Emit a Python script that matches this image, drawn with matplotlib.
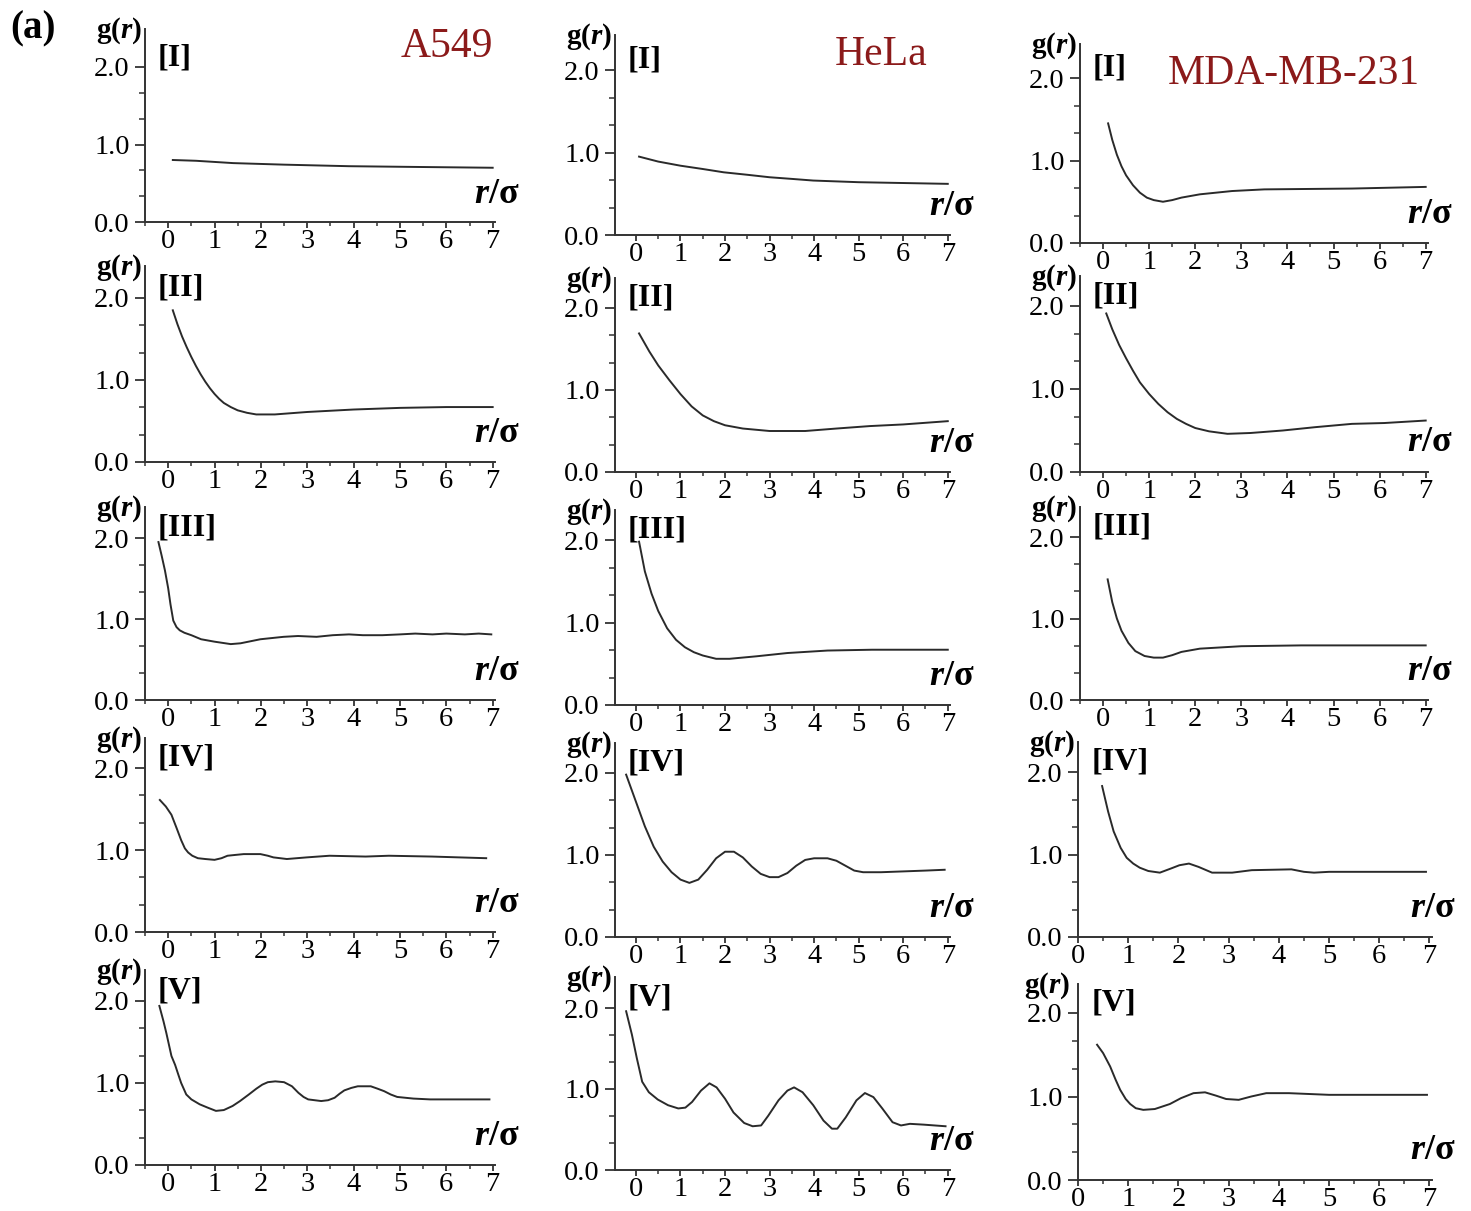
import matplotlib
matplotlib.use("Agg")
import matplotlib.pyplot as plt
from matplotlib.ticker import MultipleLocator, FixedLocator

plt.rcParams['font.family'] = ['Liberation Serif', 'DejaVu Serif']
plt.rcParams['mathtext.fontset'] = 'custom'
plt.rcParams['mathtext.rm'] = 'Liberation Serif:bold'
plt.rcParams['mathtext.it'] = 'Liberation Serif:italic:bold'
plt.rcParams['mathtext.bf'] = 'Liberation Serif:bold'

# ---------------- data ----------------
cell_lines = ["A549", "HeLa", "MDA-MB-231"]
states = ["[I]", "[II]", "[III]", "[IV]", "[V]"]
x_ticks = [0, 1, 2, 3, 4, 5, 6, 7]
y_ticks = [0.0, 1.0, 2.0]

# A549
a549_I_r = [0.1, 0.6, 1.4, 2.5, 3.9, 5.4, 7.0]
a549_I_g = [0.80, 0.79, 0.76, 0.74, 0.72, 0.71, 0.70]
a549_II_r = [0.1, 0.2, 0.3, 0.4, 0.5, 0.6, 0.7, 0.8, 0.9, 1.0, 1.1, 1.2, 1.35, 1.5, 1.7, 1.9,
             2.3, 3.0, 4.0, 5.0, 6.0, 7.0]
a549_II_g = [1.85, 1.68, 1.53, 1.40, 1.28, 1.17, 1.07, 0.98, 0.90, 0.83, 0.77, 0.72, 0.67, 0.63, 0.60, 0.58,
             0.58, 0.61, 0.64, 0.66, 0.67, 0.67]
a549_III_r = [-0.21, -0.14, -0.07, 0.0, 0.05, 0.11, 0.18, 0.25, 0.35, 0.5, 0.71, 1.0, 1.35, 1.56, 1.99,
              2.49, 2.8, 3.2, 3.55, 3.9, 4.2, 4.62, 5.0, 5.33, 5.7, 6.0, 6.4, 6.7, 6.97]
a549_III_g = [1.95, 1.78, 1.60, 1.38, 1.18, 0.98, 0.90, 0.86, 0.83, 0.80, 0.75, 0.72, 0.69, 0.70, 0.75,
              0.78, 0.79, 0.78, 0.80, 0.81, 0.80, 0.80, 0.81, 0.82, 0.81, 0.82, 0.81, 0.82, 0.81]
a549_IV_r = [-0.18, -0.05, 0.07, 0.18, 0.28, 0.36, 0.43, 0.52, 0.64, 0.8, 1.0, 1.15, 1.28, 1.45, 1.63,
             1.99, 2.15, 2.27, 2.56, 2.99, 3.48, 4.26, 4.76, 5.69, 6.86]
a549_IV_g = [1.61, 1.53, 1.43, 1.27, 1.12, 1.02, 0.97, 0.93, 0.90, 0.89, 0.88, 0.90, 0.93, 0.94, 0.95,
             0.95, 0.93, 0.91, 0.89, 0.91, 0.93, 0.92, 0.93, 0.92, 0.90]
a549_V_r = [-0.19, -0.1, -0.04, 0.07, 0.15, 0.22, 0.28, 0.39, 0.5, 0.68, 0.85, 1.03, 1.2, 1.39, 1.55,
            1.74, 1.9, 2.03, 2.15, 2.31, 2.5, 2.67, 2.81, 2.92, 3.02, 3.3, 3.45, 3.59, 3.7, 3.8, 3.95,
            4.09, 4.37, 4.52, 4.66, 4.8, 4.94, 5.29, 5.65, 6.93]
a549_V_g = [1.94, 1.75, 1.61, 1.33, 1.22, 1.10, 1.00, 0.86, 0.80, 0.74, 0.70, 0.66, 0.67, 0.72, 0.78,
            0.86, 0.93, 0.98, 1.01, 1.02, 1.01, 0.96, 0.88, 0.83, 0.80, 0.78, 0.79, 0.82, 0.87, 0.91, 0.94,
            0.96, 0.96, 0.93, 0.90, 0.86, 0.83, 0.81, 0.80, 0.80]

# HeLa
hela_I_r = [0.07, 0.5, 1.0, 1.5, 1.97, 2.5, 3.0, 3.5, 3.98, 5.0, 6.0, 7.0]
hela_I_g = [0.95, 0.89, 0.84, 0.80, 0.76, 0.73, 0.70, 0.68, 0.66, 0.64, 0.63, 0.62]
hela_II_r = [0.07, 0.3, 0.5, 0.75, 1.0, 1.25, 1.5, 1.75, 2.0, 2.4, 3.0, 3.8, 4.5, 5.25, 6.0, 7.0]
hela_II_g = [1.69, 1.47, 1.30, 1.12, 0.95, 0.80, 0.69, 0.62, 0.57, 0.53, 0.50, 0.50, 0.53, 0.56, 0.58, 0.62]
hela_III_r = [0.07, 0.2, 0.35, 0.5, 0.7, 0.9, 1.1, 1.3, 1.5, 1.8, 2.1, 2.7, 3.4, 4.3, 5.3, 7.0]
hela_III_g = [1.98, 1.62, 1.35, 1.14, 0.93, 0.79, 0.70, 0.64, 0.60, 0.56, 0.56, 0.59, 0.63, 0.66, 0.67, 0.67]
hela_IV_r = [-0.22, 0.0, 0.2, 0.4, 0.6, 0.8, 1.0, 1.2, 1.4, 1.6, 1.8, 2.0, 2.2, 2.4, 2.6, 2.8, 3.0,
             3.2, 3.4, 3.6, 3.8, 4.0, 4.3, 4.5, 4.7, 4.9, 5.1, 5.5, 6.0, 6.5, 6.93]
hela_IV_g = [1.98, 1.65, 1.35, 1.10, 0.92, 0.79, 0.70, 0.66, 0.70, 0.82, 0.96, 1.04, 1.04, 0.97, 0.86, 0.77, 0.73,
             0.73, 0.78, 0.87, 0.94, 0.96, 0.96, 0.93, 0.87, 0.81, 0.79, 0.79, 0.80, 0.81, 0.82]
hela_V_r = [-0.22, -0.09, 0.02, 0.14, 0.29, 0.49, 0.72, 0.95, 1.11, 1.26, 1.46, 1.65, 1.81, 2.0, 2.19,
            2.43, 2.62, 2.81, 2.97, 3.2, 3.4, 3.55, 3.74, 3.98, 4.21, 4.4, 4.52, 4.71, 4.95, 5.14,
            5.33, 5.53, 5.76, 5.95, 6.15, 6.46, 6.95]
hela_V_g = [1.96, 1.67, 1.38, 1.09, 0.96, 0.87, 0.80, 0.76, 0.77, 0.84, 0.98, 1.07, 1.02, 0.88, 0.71,
            0.58, 0.54, 0.55, 0.67, 0.86, 0.98, 1.02, 0.96, 0.80, 0.61, 0.51, 0.51, 0.65, 0.86, 0.95,
            0.90, 0.76, 0.59, 0.55, 0.57, 0.56, 0.54]

# MDA-MB-231
mda_I_r = [0.11, 0.2, 0.3, 0.4, 0.5, 0.65, 0.8, 0.95, 1.1, 1.3, 1.5, 1.7, 2.1, 2.8, 3.5, 5.4, 7.0]
mda_I_g = [1.45, 1.25, 1.07, 0.93, 0.82, 0.70, 0.61, 0.55, 0.52, 0.50, 0.52, 0.55, 0.59, 0.63, 0.65, 0.66, 0.68]
mda_II_r = [0.07, 0.2, 0.35, 0.5, 0.65, 0.8, 1.0, 1.2, 1.4, 1.6, 1.8, 2.0, 2.3, 2.7, 3.2, 3.9, 4.6,
            5.4, 6.1, 7.0]
mda_II_g = [1.91, 1.72, 1.53, 1.37, 1.22, 1.08, 0.94, 0.82, 0.72, 0.64, 0.58, 0.53, 0.49, 0.46, 0.47, 0.50, 0.54,
            0.58, 0.59, 0.62]
mda_III_r = [0.1, 0.2, 0.3, 0.4, 0.55, 0.7, 0.9, 1.1, 1.3, 1.5, 1.7, 2.1, 3.0, 4.3, 7.0]
mda_III_g = [1.48, 1.20, 1.00, 0.85, 0.70, 0.60, 0.54, 0.52, 0.52, 0.55, 0.59, 0.63, 0.66, 0.67, 0.67]
mda_IV_r = [0.48, 0.6, 0.71, 0.85, 0.97, 1.1, 1.23, 1.4, 1.63, 1.85, 2.02, 2.21, 2.4, 2.67, 3.07, 3.46,
            4.25, 4.5, 4.7, 5.0, 6.93]
mda_IV_g = [1.83, 1.52, 1.28, 1.08, 0.96, 0.89, 0.84, 0.80, 0.78, 0.83, 0.87, 0.89, 0.85, 0.78, 0.78, 0.81,
            0.82, 0.79, 0.78, 0.79, 0.79]
mda_V_r = [0.38, 0.5, 0.64, 0.75, 0.84, 0.95, 1.04, 1.15, 1.3, 1.53, 1.83, 2.05, 2.3, 2.53, 2.75, 2.95,
           3.2, 3.45, 3.75, 4.2, 5.0, 6.95]
mda_V_g = [1.62, 1.52, 1.36, 1.20, 1.08, 0.97, 0.91, 0.86, 0.84, 0.85, 0.91, 0.98, 1.04, 1.05, 1.01, 0.97,
           0.96, 1.00, 1.04, 1.04, 1.02, 1.02]

series = [
    [(a549_I_r, a549_I_g), (hela_I_r, hela_I_g), (mda_I_r, mda_I_g)],
    [(a549_II_r, a549_II_g), (hela_II_r, hela_II_g), (mda_II_r, mda_II_g)],
    [(a549_III_r, a549_III_g), (hela_III_r, hela_III_g), (mda_III_r, mda_III_g)],
    [(a549_IV_r, a549_IV_g), (hela_IV_r, hela_IV_g), (mda_IV_r, mda_IV_g)],
    [(a549_V_r, a549_V_g), (hela_V_r, hela_V_g), (mda_V_r, mda_V_g)],
]

# ---------------- layout (pixels) ----------------
W, H = 1471, 1211
col_x = [(145, 495, -0.5), (615, 950, -0.47), (1080, 1428, -0.5)]
col3_low = (1078, 1432, 0.0)
# (pixel y of 0.0, pixel y of 2.0, pixel y of the g(r) label centre) per row, per column
rows_y = [
    [(222, 67, 27), (235, 70, 33), (243, 78, 42)],
    [(462, 298, 264), (472, 308, 276), (472, 306, 274)],
    [(700, 538, 505), (705, 540, 508), (700, 537, 505)],
    [(932, 768, 736), (937, 773, 741), (937, 772, 740)],
    [(1165, 1001, 968), (1170, 1008, 975), (1180, 1013, 982)],
]
XMAX = 7.05
name_pos = [(7.0, 2.26), (6.55, 2.18), (6.88, 2.05)]

fig = plt.figure(figsize=(W / 100, H / 100), dpi=100)
line_c = '#2a2a2a'
spine_c = '#333333'

for ri in range(5):
    for ci in range(3):
        if ci == 2 and ri >= 3:
            lpx, rpx, xmin = col3_low
        else:
            lpx, rpx, xmin = col_x[ci]
        y0, y2, gc = rows_y[ri][ci]
        top_px = gc + 2
        ytop = 2.0 * (y0 - top_px) / (y0 - y2)
        ax = fig.add_axes([lpx / W, 1 - y0 / H, (rpx - lpx) / W, (y0 - top_px) / H])
        r, g = series[ri][ci]
        ax.plot(r, g, color=line_c, lw=1.4, solid_joinstyle='round')
        ax.set_xlim(xmin, XMAX)
        ax.set_ylim(0, ytop)
        for s in ['top', 'right']:
            ax.spines[s].set_visible(False)
        for s in ['left', 'bottom']:
            ax.spines[s].set_color(spine_c)
            ax.spines[s].set_linewidth(1.4)
        ax.set_xticks(x_ticks)
        ax.set_xticklabels([str(v) for v in x_ticks])
        ax.xaxis.set_minor_locator(MultipleLocator(0.5))
        ax.set_yticks(y_ticks)
        ax.set_yticklabels([f"{v:.1f}" for v in y_ticks])
        ax.yaxis.set_minor_locator(FixedLocator([1 / 3, 2 / 3, 4 / 3, 5 / 3]))
        ax.tick_params(axis='y', which='major', direction='out', length=7, width=1.3,
                       color=spine_c, labelsize=20.5, pad=4)
        ax.tick_params(axis='y', which='minor', direction='out', length=4, width=1.1, color=spine_c)
        ax.tick_params(axis='x', which='major', direction='out', length=4, width=1.3,
                       color=spine_c, labelsize=20.5, pad=1.0)
        ax.tick_params(axis='x', which='minor', direction='out', length=3, width=1.1, color=spine_c)
        gx = -6 if (ci == 2 and ri == 4) else -2
        ax.annotate(r'g($r$)', xy=(0, 1), xycoords='axes fraction', xytext=(gx, -1),
                    textcoords='offset points', ha='right', va='center',
                    fontsize=21, fontweight='bold')
        ax.text(xmin + 0.28, 2.12, states[ri], ha='left', va='center',
                fontsize=23, fontweight='bold')
        ax.annotate(r'$r$/σ', xy=(7, 0.35), xycoords='data', xytext=(19, 0),
                    textcoords='offset points', ha='right', va='center',
                    fontsize=26, fontweight='bold')
        if ri == 0:
            nx, ny = name_pos[ci]
            ax.text(nx, ny, cell_lines[ci], ha='right', va='center', fontsize=30,
                    color='#8b1a1a')

fig.text(10 / W, 1 - 29 / H, '(a)', ha='left', va='center', fontsize=28, fontweight='bold')

fig.savefig('out.png', dpi=100, facecolor='white')
